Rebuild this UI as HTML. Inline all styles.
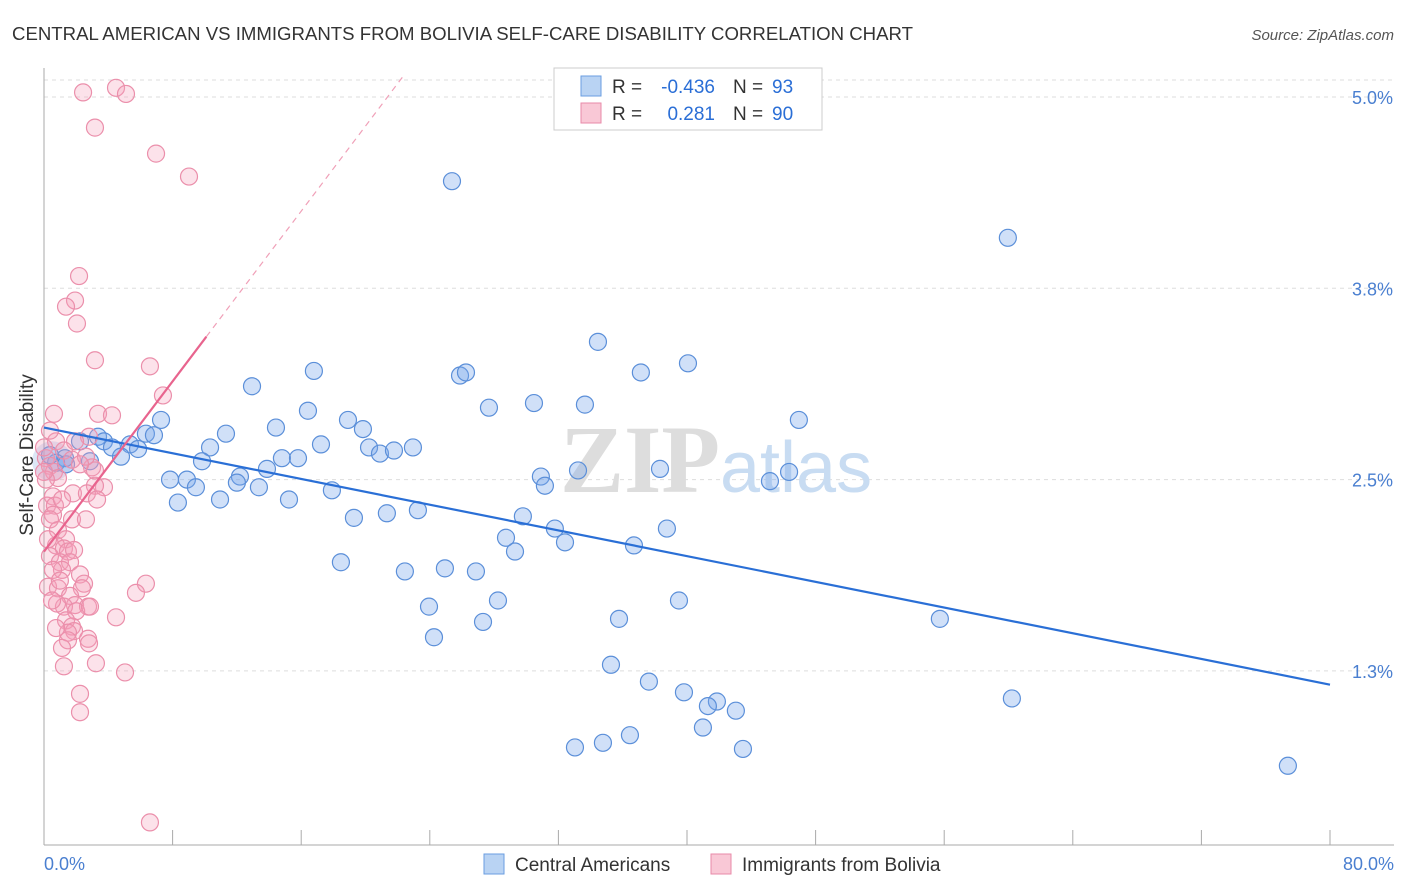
<!DOCTYPE html>
<html><head><meta charset="utf-8"><style>
body{margin:0;background:#fff;font-family:"Liberation Sans",sans-serif;}
#c{position:absolute;left:0;top:0;width:1406px;height:892px;}
</style></head><body>
<svg id="c" width="1406" height="892">
<text x="12" y="40" font-size="18" fill="#333" textLength="901" lengthAdjust="spacingAndGlyphs">CENTRAL AMERICAN VS IMMIGRANTS FROM BOLIVIA SELF-CARE DISABILITY CORRELATION CHART</text>
<text x="1394" y="40" font-size="15" fill="#555" font-style="italic" text-anchor="end">Source: ZipAtlas.com</text>
<g id="grid"></g>
<text x="720" y="492" font-size="96" fill="#ddd" text-anchor="end" font-family="Liberation Serif" font-weight="bold">ZIP</text>
<text x="720" y="492" font-size="72" fill="#c8dcf2">atlas</text>
<g id="pts"></g>
<g id="lines"></g>
<text x="33" y="455" font-size="19" fill="#333" text-anchor="middle" transform="rotate(-90 33 455)">Self-Care Disability</text>
<text x="44" y="870" font-size="18" fill="#4a7fd0">0.0%</text>
<text x="1394" y="870" font-size="18" fill="#4a7fd0" text-anchor="end">80.0%</text>
<g>
<rect x="554" y="68" width="268" height="62" fill="#fff" stroke="#ccc"/>
<rect x="581" y="76" width="20" height="20" fill="#b9d3f3" stroke="#6a9ee0"/>
<rect x="581" y="103" width="20" height="20" fill="#f9c8d6" stroke="#e88aa8"/>
<text x="612" y="93" font-size="19" fill="#333">R =</text>
<text x="715" y="93" font-size="19" fill="#2a6ed6" text-anchor="end">-0.436</text>
<text x="733" y="93" font-size="19" fill="#333">N =</text>
<text x="772" y="93" font-size="19" fill="#2a6ed6">93</text>
<text x="612" y="120" font-size="19" fill="#333">R =</text>
<text x="715" y="120" font-size="19" fill="#2a6ed6" text-anchor="end">0.281</text>
<text x="733" y="120" font-size="19" fill="#333">N =</text>
<text x="772" y="120" font-size="19" fill="#2a6ed6">90</text>
</g>
<g>
<rect x="484" y="854" width="20" height="20" fill="#b9d3f3" stroke="#6a9ee0"/>
<text x="515" y="871" font-size="19" fill="#333">Central Americans</text>
<rect x="711" y="854" width="20" height="20" fill="#f9c8d6" stroke="#e88aa8"/>
<text x="742" y="871" font-size="19" fill="#333">Immigrants from Bolivia</text>
</g>
</svg>
<script>
const yTicks=[5.0,3.75,2.5,1.25];
const yTickLabels=["5.0%","3.8%","2.5%","1.3%"];
const xTicks=[0,8,16,24,32,40,48,56,64,72,80];
const blueX=[25.38,59.96,34.46,40.06,16.79,37.13,25.88,26.25,12.94,16.42,27.68,30.48,33.65,46.96,18.91,19.84,7.28,14.43,11.32,6.34,6.84,3.36,2.24,3.73,5.35,5.85,4.23,10.33,17.23,20.22,20.9,21.77,22.95,4.79,2.86,1.31,0.75,9.83,14.8,15.8,13.87,12.19,7.84,8.89,12.0,9.45,13.37,30.91,33.22,38.32,46.35,45.16,31.16,17.91,15.24,10.95,8.33,23.26,21.33,19.28,29.79,31.78,38.75,28.74,32.41,36.7,29.3,18.47,22.45,24.94,26.87,28.24,23.95,39.5,35.77,55.73,27.31,24.26,35.27,37.63,39.81,41.86,41.3,43.04,60.21,40.99,36.45,34.77,33.03,43.48,77.38,1.37,0.37];
const blueY=[4.45,4.08,3.40,3.26,3.21,3.20,3.18,3.20,3.11,2.95,2.97,3.00,2.99,2.89,2.89,2.83,2.89,2.84,2.80,2.80,2.79,2.78,2.75,2.75,2.73,2.70,2.71,2.71,2.73,2.71,2.67,2.69,2.71,2.65,2.62,2.64,2.61,2.62,2.64,2.64,2.57,2.52,2.50,2.50,2.48,2.45,2.45,2.52,2.56,2.57,2.55,2.49,2.46,2.43,2.37,2.37,2.35,2.30,2.28,2.25,2.26,2.18,2.18,2.12,2.09,2.07,2.03,1.96,1.90,1.92,1.90,1.71,1.67,1.71,1.59,1.59,1.57,1.47,1.29,1.18,1.11,1.05,1.02,0.99,1.07,0.88,0.83,0.78,0.75,0.74,0.63,2.60,2.66];
const pinkX=[4.48,5.1,2.43,3.17,6.97,9.02,2.18,1.93,1.37,2.05,3.17,6.59,7.4,0.62,3.36,4.23,2.8,0.75,1.93,1.24,0.12,2.99,1.74,0.37,0.62,0.87,0.12,3.73,3.17,0.56,1.8,2.67,3.3,0.19,0.68,0.56,0.37,1.74,2.61,0.87,1.37,0.75,1.24,1.49,1.87,0.37,0.99,1.62,1.12,0.56,2.24,2.49,0.25,0.87,2.36,6.34,5.72,1.62,1.93,2.74,1.24,0.81,2.0,2.86,4.48,1.37,1.74,1.87,1.49,0.75,2.74,2.8,1.49,1.12,3.23,1.24,5.04,2.24,2.24,6.59,0.5,0.99,3.17,2.61,2.24,1.12,0.25,0,0,0.37];
const pinkY=[5.06,5.02,5.03,4.80,4.63,4.48,3.83,3.67,3.63,3.52,3.28,3.24,3.05,2.93,2.93,2.92,2.78,2.75,2.75,2.69,2.64,2.58,2.63,2.59,2.55,2.51,2.50,2.45,2.46,2.39,2.41,2.41,2.37,2.33,2.33,2.27,2.24,2.24,2.24,2.17,2.11,2.07,2.05,2.03,2.04,2.00,1.96,1.96,1.91,1.91,1.88,1.82,1.80,1.79,1.79,1.82,1.76,1.74,1.68,1.67,1.67,1.69,1.64,1.67,1.60,1.58,1.54,1.51,1.50,1.53,1.46,1.43,1.45,1.40,1.30,1.28,1.24,1.10,0.98,0.26,1.71,1.84,2.56,2.65,2.60,2.37,2.11,2.71,2.55,2.82];
const blueTrend=[2.84,-0.0210];
const pinkTrend=[2.03,0.139];
const NS="http://www.w3.org/2000/svg";
function sx(v){return 44+v/80*1286;}
function sy(v){return 97+(5-v)/1.25*191.3;}
function mk(tag,attrs,parent){const e=document.createElementNS(NS,tag);for(const k in attrs)e.setAttribute(k,attrs[k]);parent.appendChild(e);return e;}
const grid=document.getElementById('grid');
mk('line',{x1:44,x2:1394,y1:80,y2:80,stroke:'#ddd','stroke-dasharray':'4,4'},grid);
yTicks.forEach((t,i)=>{
 const l=mk('line',{x1:44,x2:1394,y1:sy(t),y2:sy(t),stroke:'#ddd','stroke-dasharray':'4,4'},grid);
 
 
 const tx=mk('text',{x:1393,y:sy(t)+7,'font-size':18,fill:'#4a7fd0','text-anchor':'end'},grid);
 tx.textContent=yTickLabels[i];
 
 
});
mk('line',{x1:44,x2:44,y1:68,y2:845,stroke:'#aaa'},grid);
mk('line',{x1:44,x2:1394,y1:845,y2:845,stroke:'#aaa'},grid);
xTicks.forEach(t=>{
 const l=mk('line',{x1:sx(t),x2:sx(t),y1:830,y2:845,stroke:'#aaa'},grid);
 
 
});
const pts=document.getElementById('pts');
mk('circle',{cx:sx(0.5),cy:sy(2.62),r:20,fill:'rgba(120,160,220,0.25)'},pts);
blueX.forEach((x,i)=>{
 const c=mk('circle',{cx:sx(x),cy:sy(blueY[i]),r:8.5,fill:'rgba(120,165,235,0.35)',stroke:'#5b8fd9','stroke-width':1.2},pts);
 
 
});
pinkX.forEach((x,i)=>{
 const c=mk('circle',{cx:sx(x),cy:sy(pinkY[i]),r:8.5,fill:'rgba(245,160,185,0.3)',stroke:'#eb8fab','stroke-width':1.2},pts);
 
 
});
const lines=document.getElementById('lines');
const bl=mk('line',{x1:sx(0),y1:sy(blueTrend[0]),x2:sx(80),y2:sy(blueTrend[0]+80*blueTrend[1]),stroke:'#2a6fd6','stroke-width':2.2},lines);


const pl=mk('line',{x1:sx(0),y1:sy(pinkTrend[0]),x2:sx(10.1),y2:sy(pinkTrend[0]+10.1*pinkTrend[1]),stroke:'#e8648e','stroke-width':2.2},lines);


const xEnd=(5.15-pinkTrend[0])/pinkTrend[1];
const pd=mk('line',{x1:sx(10.1),y1:sy(pinkTrend[0]+10.1*pinkTrend[1]),x2:sx(xEnd),y2:sy(5.15),stroke:'#f0a0b8','stroke-width':1.2,'stroke-dasharray':'6,5'},lines);


</script>
</body></html>
